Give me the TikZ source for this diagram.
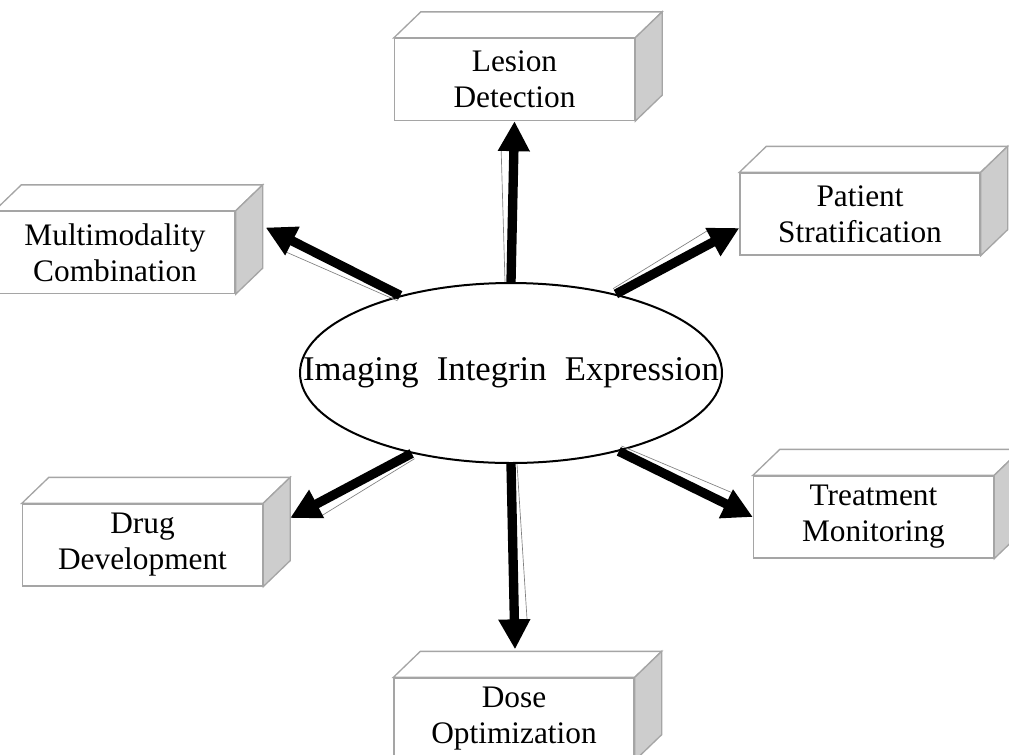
\documentclass[tikz,border=0pt]{standalone}
\usepackage{fontspec}
\setmainfont{Liberation Serif}
\newfontfamily\titlefont[WordSpace=2.1]{Liberation Serif}
\usetikzlibrary{shapes.geometric,arrows.meta,calc}

\definecolor{edgegray}{RGB}{165,165,165}
\definecolor{sidegray}{RGB}{205,205,205}

\tikzset{every picture/.style={line width=0.75pt}}
\tikzset{
  usebox/.style={draw=edgegray, fill=white, line width=1pt, minimum width=180pt, minimum height=61.5pt, inner sep=0pt, align=center, font=\fontsize{23.5}{27}\selectfont},
  boxedge/.style={draw=edgegray, line width=1pt},
  bigarrow/.style={line width=7pt, -{Triangle[length=22.5pt,width=22.5pt]}},
  shadowline/.style={draw=gray, line width=0.5pt}
}

\begin{document}
\begin{tikzpicture}[x=0.75pt,y=0.75pt,yscale=-1,xscale=1]
\path[use as bounding box, clip] (0,0) rectangle (1009,754);

%Shape: Ellipse [id:ell]
\node[ellipse, draw, line width=1.5pt, minimum width=316.5pt, minimum height=135pt, inner sep=0pt] (ell) at (511,373) {};
% Text Node
\node[font=\titlefont\fontsize{26}{31}\selectfont] (title) at (ell.center) {Imaging Integrin Expression};

%Shape: Boxes
\node[usebox] (lesion) at (514.5,79.5) {Lesion\\Detection};
\node[usebox] (multi) at (115,252.5) {Multimodality\\Combination};
\node[usebox] (patient) at (860,214) {Patient\\Stratification};
\node[usebox] (drug) at (142.5,545) {Drug\\Development};
\node[usebox] (dose) at (514,719) {Dose\\Optimization};
\node[usebox] (treat) at (873.5,517) {Treatment\\Monitoring};

%Shape: Box top and side faces
\foreach \n in {lesion,multi,patient,drug,dose,treat}{
  \draw[boxedge, fill=white] (\n.north west) -- ([shift={(27,-26)}]\n.north west) -- ([shift={(27,-26)}]\n.north east) -- (\n.north east) -- cycle;
  \draw[boxedge, fill=sidegray] (\n.north east) -- ([shift={(27,-26)}]\n.north east) -- ([shift={(27,-26)}]\n.south east) -- (\n.south east) -- cycle;
}

% Arrow ends
\coordinate (lesion-in) at (lesion.south);
\coordinate (multi-in) at ([shift={(30,-25)}]multi.east);
\coordinate (patient-in) at ([shift={(0,14)}]patient.west);
\coordinate (drug-in) at ([shift={(27,-27)}]drug.east);
\coordinate (dose-in) at ([shift={(1,-28)}]dose.north);
\coordinate (treat-in) at (treat.west);

%Straight Lines
\foreach \s/\t in {ell.north/lesion-in, ell.145/multi-in, ell.37/patient-in, ell.219/drug-in, ell.south/dose-in, ell.324/treat-in}{
  \draw[shadowline] ($(\s)!4.5pt!-90:(\t)$) -- ($(\t)!22.5pt!(\s)!9.5pt!-90:(\t)$);
  \draw[bigarrow] (\s) -- (\t);
}

\end{tikzpicture}
\end{document}
